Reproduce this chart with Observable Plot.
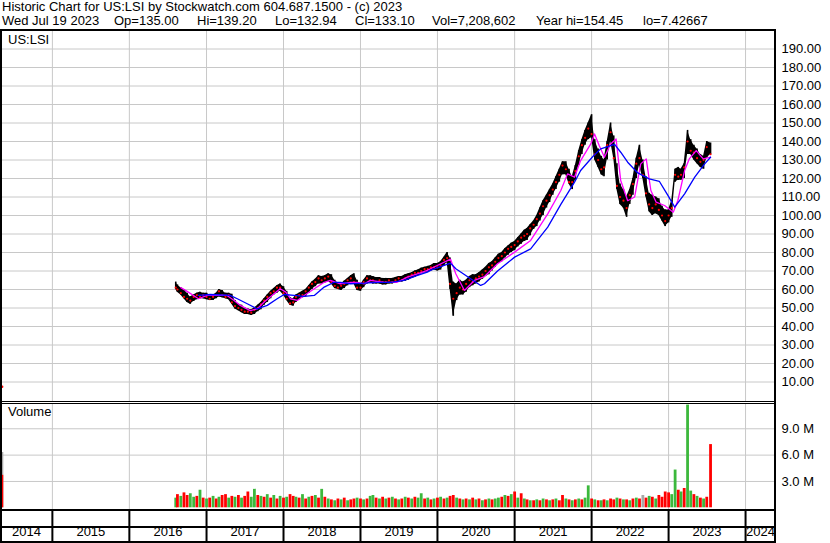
<!DOCTYPE html>
<html><head><meta charset="utf-8">
<script src="https://cdn.jsdelivr.net/npm/d3@7"></script>
<script src="https://cdn.jsdelivr.net/npm/@observablehq/plot@0.6"></script>
<style>
body{margin:0;background:#fff;}
#wrap{position:relative;width:830px;height:543px;overflow:hidden;font-family:"Liberation Sans",Arial,sans-serif;color:#000;background:#fff;}
.t{position:absolute;font-size:13px;white-space:pre;line-height:13px;z-index:3;}
.lab{position:absolute;left:8px;font-size:13px;line-height:14px;z-index:3;}
.b{position:absolute;background:#000;z-index:4;}
.p{position:absolute;left:0;}
</style></head><body>
<div id="wrap">
<div class="t" style="left:2px;top:0px">Historic Chart for US:LSI by Stockwatch.com 604.687.1500 - (c) 2023</div>
<div class="t" style="left:2px;top:14px">Wed Jul 19 2023</div>
<div class="t" style="left:114px;top:14px">Op=135.00</div>
<div class="t" style="left:197px;top:14px">Hi=139.20</div>
<div class="t" style="left:275px;top:14px">Lo=132.94</div>
<div class="t" style="left:355px;top:14px">Cl=133.10</div>
<div class="t" style="left:432px;top:14px">Vol=7,208,602</div>
<div class="t" style="left:536px;top:14px">Year hi=154.45</div>
<div class="t" style="left:643px;top:14px">lo=7.42667</div>
<div class="p" id="price" style="top:31px"></div>
<div class="p" id="vol" style="top:404px"></div>
<div class="p" id="years" style="top:509px"></div>
<div class="lab" style="top:33px">US:LSI</div>
<div class="lab" style="top:405px">Volume</div>
<div class="b" style="left:0;top:29px;width:776px;height:2px"></div>
<div class="b" style="left:0;top:29px;width:2px;height:514px"></div>
<div class="b" style="left:774px;top:29px;width:2px;height:514px"></div>
<div class="b" style="left:0;top:401px;width:776px;height:1px"></div>
<div class="b" style="left:0;top:403px;width:776px;height:1px"></div>
<div class="b" style="left:0;top:509px;width:776px;height:2px"></div>
<div class="b" style="left:0;top:526px;width:776px;height:2px"></div>
<div class="b" style="left:0;top:541px;width:776px;height:2px"></div>
</div>
<script>
// ---------- data ----------
const dates = ["2016-08-08","2016-08-16","2016-09-01","2016-09-16","2016-10-01","2016-10-16","2016-11-01","2016-11-16","2016-12-01","2016-12-16",
"2017-01-01","2017-01-16","2017-02-01","2017-02-16","2017-03-01","2017-03-16","2017-04-01","2017-04-16","2017-05-01","2017-05-16","2017-06-01","2017-06-16",
"2017-07-01","2017-07-16","2017-08-01","2017-08-16","2017-09-01","2017-09-16","2017-10-01","2017-10-16","2017-11-01","2017-11-16","2017-12-01","2017-12-16",
"2018-01-01","2018-01-16","2018-02-01","2018-02-16","2018-03-01","2018-03-16","2018-04-01","2018-04-16","2018-05-01","2018-05-16","2018-06-01","2018-06-16",
"2018-07-01","2018-07-16","2018-08-01","2018-08-16","2018-09-01","2018-09-16","2018-10-01","2018-10-16","2018-11-01","2018-11-16","2018-12-01","2018-12-16",
"2019-01-01","2019-01-16","2019-02-01","2019-02-16","2019-03-01","2019-03-16","2019-04-01","2019-04-16","2019-05-01","2019-05-16","2019-06-01","2019-06-16",
"2019-07-01","2019-07-16","2019-08-01","2019-08-16","2019-09-01","2019-09-16","2019-10-01","2019-10-16","2019-11-01","2019-11-16","2019-12-01","2019-12-16",
"2020-01-01","2020-01-16","2020-02-01","2020-02-16","2020-03-01","2020-03-16","2020-04-01","2020-04-16","2020-05-01","2020-05-16","2020-06-01","2020-06-16",
"2020-07-01","2020-07-16","2020-08-01","2020-08-16","2020-09-01","2020-09-16","2020-10-01","2020-10-16","2020-11-01","2020-11-16","2020-12-01","2020-12-16",
"2021-01-01","2021-01-16","2021-02-01","2021-02-16","2021-03-01","2021-03-16","2021-04-01","2021-04-16","2021-05-01","2021-05-16","2021-06-01","2021-06-16",
"2021-07-01","2021-07-16","2021-08-01","2021-08-16","2021-09-01","2021-09-16","2021-10-01","2021-10-16","2021-11-01","2021-11-16","2021-12-01","2021-12-16",
"2022-01-01","2022-01-16","2022-02-01","2022-02-16","2022-03-01","2022-03-16","2022-04-01","2022-04-16","2022-05-01","2022-05-16","2022-06-01","2022-06-16",
"2022-07-01","2022-07-16","2022-08-01","2022-08-16","2022-09-01","2022-09-16","2022-10-01","2022-10-16","2022-11-01","2022-11-16","2022-12-01","2022-12-16",
"2023-01-01","2023-01-16","2023-02-01","2023-02-16","2023-03-01","2023-03-16","2023-04-01","2023-04-16","2023-05-01","2023-05-16","2023-06-01","2023-06-16",
"2023-07-01","2023-07-19"];
const high = [64,62.5,61,60,58,56,57,58,58.5,58,
58,57,57,58,60,59.5,58,58,57.5,54,52,51.5,
50,49.5,49,50,51.5,53,55,57,59,60.5,62,63,
61.5,59,55.5,55,57,58,59,60,62,64,65.5,67.5,
67,67.5,68.5,68,65,63.5,63,64.5,66,67.5,68.5,65,
62.5,65,67.5,67.5,67,66.5,66.5,66,66,66,66,66.5,
67,67,68,68.5,69,70,70.5,71.5,72,72.5,73,74,
74,75,77.5,80,77,64,63,65,64,65,67,68,
68,69,70.5,72,74,75,77,79,80,82,83.5,85,
86,88,90,92,93,95,97,100,104,108,111,114,
117,121,125,129,129,125,121,127,135,141,146,150,
154.5,141,136,132,130,140,150,143,128,117,114,110,
114,120,131,138,130,121,112,111,110,109,105,103,
103,108,125,126,125,128,146,141,138,136,133,132,
140,139.2];
const low = [60,58.5,57,55,53,52,53.5,54.5,55,55,
54.5,54,54,55,56,55.5,55,54.5,52,49.5,48.5,47.5,
46.5,46.5,46,46.5,48,49,51.5,53,55,57,58,59,
57,54,51.5,51,53,54.5,55.5,56,58,60,61.5,63,
63,63.5,64.5,63,60.5,60,59.5,60.5,62,63.5,63,59.5,
59,61,63,63.5,63,63,63,62.5,62.5,63,63,63.5,
64,64,64.5,65,66,66.5,67.5,68.5,69,69.5,70,70.5,
70,70.5,73,74.5,60,45.5,54,57,57,58.5,61,62,
63,64,65.5,67,68,70,72,74,75,77,78.5,80,
81,83,84.5,86,86.5,89,92.5,94,97,100,104,107,
111,114,118,122,122,117,114,119,127,133,138,141,
142,130,126,122,121,130,140,131,114,106,104,99,
106,111,120,127,120,110,102,100,101,100,97,94,
96,99,118,119,119,120,133,133,130,128,126,125,
131,132.94];
const close = [61,60,58,56,55,54,56,57,56,57,
56,55,56,57,59,57,56,57,53,51,50,49,
48,48,47.5,49,50,52,54,56,58,59,61,61,
58,55,52.5,53,56,57,57,59,61,63,64,66,
65,66,67,64,62,61,62,63,65,66,64,61,
61,64,66,65,65,64,65,64,64,65,64,65,
66,65,66,67,68,69,69,70,71,71,72,72,
72,73,76,77,63,55,58,61,60,63,65,64,
66,67,68,70,72,73,75,77,78,80,82,83,
84,86,88,89,90,93,95,98,101,105,108,111,
114,118,122,127,125,118,118,124,132,138,142,147,
144,133,130,125,126,138,145,131,116,110,108,104,
111,117,128,131,122,112,106,104,106,103,100,97,
100,104,122,121,122,126,140,135,134,131,129,130,
137,133.1];
const volume = [1.1,1.5,1.3,1.7,1.4,1.6,1.2,1.3,2.0,1.1,
1.0,1.1,1.3,1.0,1.2,1.4,1.5,1.1,1.3,1.2,1.4,1.1,
1.3,1.8,1.2,2.1,1.4,1.3,1.2,1.5,1.1,1.4,1.0,1.3,
1.1,1.2,1.5,1.3,1.2,1.1,1.5,1.0,1.2,1.3,1.4,1.1,
2.1,1.2,1.0,0.9,0.8,1.0,0.9,1.1,0.8,0.9,1.0,1.1,
1.0,0.9,1.0,1.3,1.4,1.1,1.0,1.2,1.0,1.1,1.2,1.0,
0.9,1.0,1.2,1.1,1.0,1.2,1.1,1.6,1.0,1.1,0.9,1.0,
1.1,1.2,1.0,1.1,1.3,1.4,1.1,1.0,0.9,1.0,0.9,1.1,
0.9,1.0,0.8,0.9,1.0,0.9,1.0,1.1,1.2,1.4,1.3,1.5,
1.8,1.1,1.6,1.0,0.9,0.8,0.8,0.9,0.8,1.0,0.9,0.8,
0.9,1.0,0.8,1.4,1.0,0.9,0.8,0.9,1.0,0.9,1.1,2.5,
1.0,0.9,0.8,0.8,0.9,0.8,1.0,0.9,1.1,1.0,0.9,0.9,
0.8,1.0,1.1,1.0,1.4,1.1,1.3,1.2,1.0,1.4,1.2,1.8,
1.7,1.5,4.3,2.0,1.8,2.2,11.7,1.9,1.5,1.3,1.1,1.0,
1.2,7.2];
const volColor = ["g","r","g","r","r","g","g","r","g","r",
"g","r","g","r","g","r","r","g","r","g","r","g",
"r","r","g","g","r","g","r","g","r","g","r","g",
"r","g","r","r","g","r","g","r","g","r","g","r",
"g","r","g","r","g","r","g","r","g","r","r","g",
"r","g","r","g","g","r","g","r","g","r","g","r",
"g","r","g","r","g","r","g","g","r","g","r","g",
"r","g","r","g","r","r","g","r","g","r","g","r",
"g","r","g","r","g","r","g","g","r","g","r","g",
"r","g","r","g","r","g","r","g","r","g","r","g",
"r","g","r","r","g","r","g","r","g","r","g","g",
"r","g","r","g","r","g","r","r","g","r","g","r",
"g","r","g","r","n","r","g","r","g","r","r","r",
"r","g","g","r","g","r","g","g","r","g","r","g",
"r","r"];
// stray early record at the left edge of the chart
const edgeDate = ["2014-05-08"];
const edgePrice = [7.43];
const edgeVolume = [6.3, 3.7];
const edgeVolColor = ["n", "r"];

const fastDates = ["2016-09-01","2016-10-01","2016-11-24","2017-01-04","2017-02-20","2017-04-08","2017-05-12","2017-06-10","2017-07-27","2017-08-29",
"2017-10-01","2017-11-17","2017-12-16","2018-01-12","2018-02-03","2018-03-07","2018-04-09","2018-05-27","2018-07-13","2018-08-11",
"2018-09-28","2018-11-14","2018-12-16","2019-01-19","2019-02-17","2019-04-23","2019-06-24","2019-08-11","2019-09-28","2019-11-14",
"2019-11-29","2020-03-03","2020-03-28","2020-05-08","2020-06-24","2020-08-11","2020-10-12","2021-01-01","2021-03-18","2021-06-07",
"2021-08-08","2021-09-09","2021-10-12","2021-11-10","2021-12-28","2022-01-15","2022-02-06","2022-03-03","2022-04-01","2022-04-27",
"2022-05-19","2022-06-21","2022-07-24","2022-08-22","2022-09-17","2022-10-09","2022-11-03","2022-12-13","2023-01-23","2023-02-14",
"2023-03-18","2023-04-09","2023-05-12","2023-06-14","2023-07-19"];
const fastMA = [61,59,55,56.8,56.8,56.8,54.1,51.4,48.6,49.5,
53.2,57.7,60.4,58.6,55,54.1,56.8,60.4,63.9,64.9,
63.1,63.9,63.9,63.1,64.9,63.9,63.9,66.7,68.5,70.3,
71.2,76.4,68.5,59.5,64.9,67,73.9,80.2,86.5,100.9,
113.5,122.5,120.7,129.7,138.7,144.1,137.8,131.5,138.7,141.4,
118.9,108,110,127.9,130.6,113.5,107.2,105.4,101.8,108.1,
124.3,130.6,135.1,130.6,131.5];
const slowDates = ["2016-11-24","2017-01-19","2017-04-23","2017-05-27","2017-07-13","2017-08-29","2017-10-16","2017-12-02","2018-01-04","2018-02-20",
"2018-04-09","2018-05-27","2018-07-13","2018-08-29","2018-09-28","2018-11-14","2019-01-19","2019-03-22","2019-05-27","2019-07-27",
"2019-09-28","2019-11-14","2019-12-01","2020-03-03","2020-03-28","2020-07-24","2020-08-11","2020-10-12","2021-01-01","2021-03-18",
"2021-06-07","2021-08-08","2021-10-12","2021-11-10","2022-01-08","2022-02-13","2022-04-20","2022-05-19","2022-06-21","2022-08-08",
"2022-10-01","2022-11-18","2022-12-28","2023-01-30","2023-03-18","2023-05-05","2023-06-21","2023-07-19"];
const slowMA = [56.8,57.3,56.8,55,52.3,49.5,51.4,55,57.3,56.8,
56.3,56.8,61.3,63.9,63.9,63.1,63.4,63.9,63.9,64.9,
67.6,69.4,70.5,74.2,71.2,62.2,63.1,70,77.5,82,
93.7,106,118,124.3,132,136,138.5,134.2,128.8,123,
119.8,118.5,111,104.5,111.7,120.7,127.9,131.5];

const priceTicks = [10,20,30,40,50,60,70,80,90,100,110,120,130,140,150,160,170,180,190];
const volTicks = [3e6, 6e6, 9e6];
const yearBreaks = ["2015","2016","2017","2018","2019","2020","2021","2022","2023","2024"];
const yearLabels = ["2014","2015","2016","2017","2018","2019","2020","2021","2022","2023","2024"];

// ---------- build ----------
const P = d3.utcParse("%Y-%m-%d");
const Y = d3.utcParse("%Y");
const xDomain = [P("2014-04-30"), P("2024-05-22")];
const xScale = {type: "utc", domain: xDomain, range: [0, 775]};
const font = {fontFamily: "'Liberation Sans', Arial, sans-serif", fontSize: "13px", background: "transparent", color: "#000", overflow: "visible"};
const colorMap = {r: "#ff0000", g: "#3cb83c", n: "#a8a8a8"};

const bars = dates.map((d, i) => ({date: P(d), hi: high[i], lo: low[i], cl: close[i], vol: volume[i] * 1e6, c: colorMap[volColor[i]]}));
const edge = edgeDate.map((d, i) => ({date: P(d), p: edgePrice[i]}));
const edgeVol = edgeVolume.map((v, i) => ({date: P(edgeDate[0]), vol: v * 1e6, c: colorMap[edgeVolColor[i]]}));
const fast = fastDates.map((d, i) => ({date: P(d), v: fastMA[i]}));
const slow = slowDates.map((d, i) => ({date: P(d), v: slowMA[i]}));
const breaks = yearBreaks.map(Y);
const labels = yearLabels.map(y => {
  const a = Y(y), b = d3.utcYear.offset(a, 1);
  const s = Math.max(+a, +xDomain[0]), e = Math.min(+b, +xDomain[1]);
  return {label: y, mid: new Date((s + e) / 2)};
});
const grid = "#c8c8c8";

const price = Plot.plot({
  width: 830, height: 370, marginLeft: 0, marginRight: 55, marginTop: 0, marginBottom: 0,
  style: font,
  x: {...xScale, axis: null},
  y: {domain: [0, 200], range: [369, -1], label: null},
  marks: [
    Plot.ruleY(priceTicks, {stroke: grid}),
    Plot.ruleX(breaks, {stroke: grid}),
    Plot.axisY(priceTicks, {anchor: "right", label: null, tickSize: 0, tickPadding: 6, tickFormat: d => d.toFixed(2), fill: "#000"}),
    Plot.areaY(bars, {x: "date", y1: "lo", y2: "hi", fill: "#000"}),
    Plot.ruleX(bars, {x: "date", y1: "lo", y2: "hi", stroke: "#000", strokeWidth: 1.6}),
    Plot.dot(bars, {x: "date", y: "cl", r: 1.1, fill: "#ff0000", stroke: null}),
    Plot.dot(edge, {x: "date", y: "p", r: 1.2, fill: "#ff0000", stroke: null}),
    Plot.line(fast, {x: "date", y: "v", stroke: "#ff00ff", strokeWidth: 1.3}),
    Plot.line(slow, {x: "date", y: "v", stroke: "#0000ff", strokeWidth: 1.3})
  ]
});
document.getElementById("price").append(price);

const vol = Plot.plot({
  width: 830, height: 105, marginLeft: 0, marginRight: 55, marginTop: 0, marginBottom: 0,
  style: font,
  x: {...xScale, axis: null},
  y: {domain: [0, 12e6], range: [103.3, 103.3 - 8.78 * 12], label: null},
  marks: [
    Plot.ruleY(volTicks, {stroke: grid}),
    Plot.ruleX(breaks, {stroke: grid}),
    Plot.axisY(volTicks, {anchor: "right", label: null, tickSize: 0, tickPadding: 6, tickFormat: d => (d / 1e6).toFixed(1) + " M", fill: "#000"}),
    Plot.ruleX(bars, {x: "date", y1: 0, y2: "vol", stroke: "c", strokeWidth: 2.8}),
    Plot.ruleX(edgeVol, {x: "date", y1: 0, y2: "vol", stroke: "c", strokeWidth: 2.2})
  ]
});
document.getElementById("vol").append(vol);

const yrs = Plot.plot({
  width: 830, height: 34, marginLeft: 0, marginRight: 55, marginTop: 0, marginBottom: 0,
  style: font,
  x: {...xScale, axis: null},
  marks: [
    Plot.ruleX(breaks, {stroke: "#000", strokeWidth: 2}),
    Plot.text(labels, {x: "mid", text: "label", frameAnchor: "bottom", dy: -8, fill: "#000"})
  ]
});
document.getElementById("years").append(yrs);
</script>
</body></html>
